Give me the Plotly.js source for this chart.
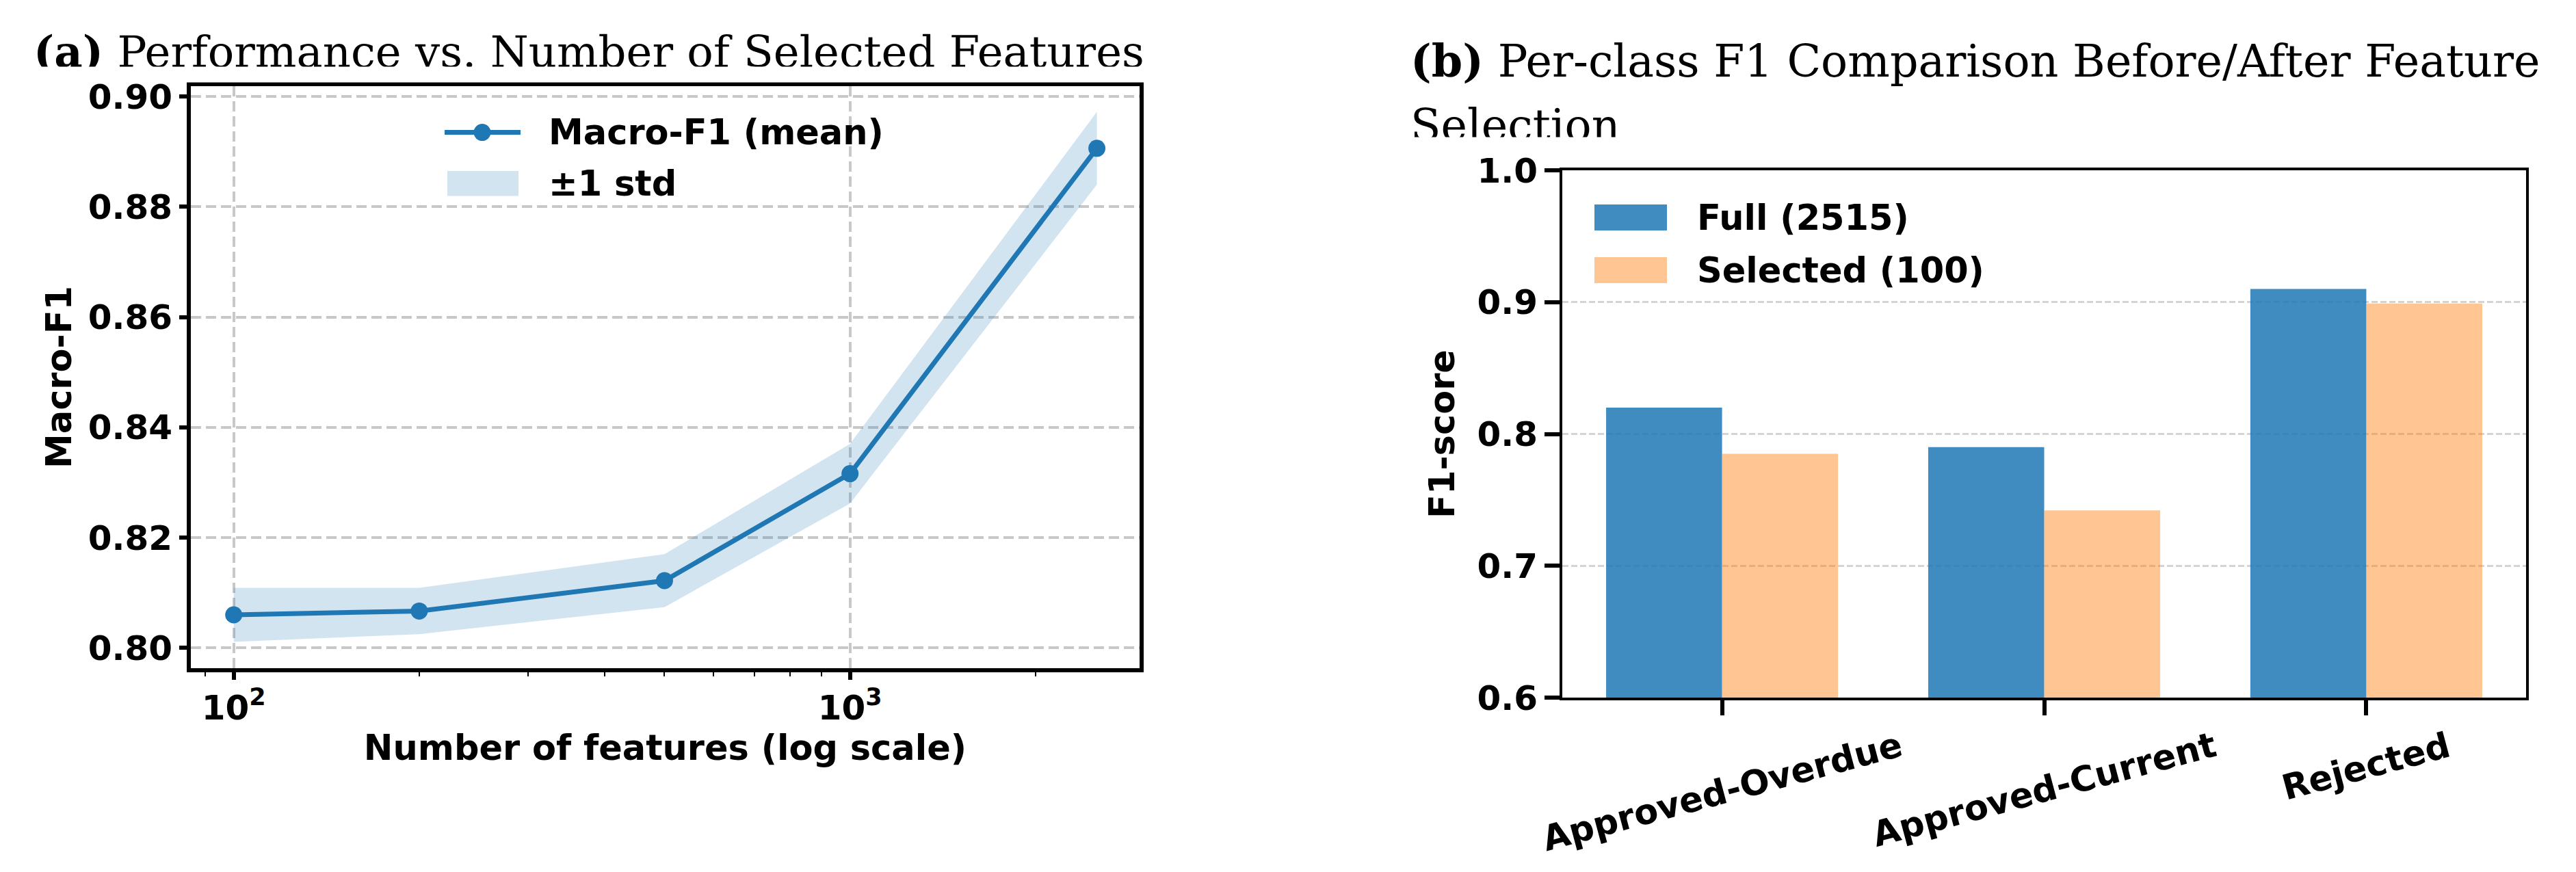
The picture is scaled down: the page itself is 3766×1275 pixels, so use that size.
<!DOCTYPE html>
<html>
<head>
<meta charset="utf-8">
<script src="https://cdn.plot.ly/plotly-3.0.1.min.js"></script>
<style>
  html, body { margin: 0; padding: 0; background: #ffffff; }
  #chart { width: 3766px; height: 1275px; }
</style>
</head>
<body>
<div id="chart"></div>
<script>
// Figure size in pixels
const W = 3766, H = 1275;

// (a) Macro-F1 against the number of selected features
const featureCounts = [100, 200, 500, 1000, 2515];
const macroF1Mean   = [0.8060, 0.8067, 0.8122, 0.8316, 0.8906];
const macroF1Std    = [0.0049, 0.0042, 0.0048, 0.0054, 0.0066];
const selectedK     = 100;

// (b) Per-class F1 before / after feature selection
const classNames = ['Approved-Overdue', 'Approved-Current', 'Rejected'];
const f1Full     = [0.820, 0.790, 0.910];
const f1Selected = [0.785, 0.742, 0.899];

const fullLabel     = 'Full (' + featureCounts[featureCounts.length - 1] + ')';
const selectedLabel = 'Selected (' + selectedK + ')';

// pixel -> paper helpers
const px = x => x / W;
const py = y => 1 - y / H;

const BLUE = '#1f77b4';
const BAND = 'rgba(31,119,180,0.2)';
const BAR_FULL = 'rgba(31,119,180,0.85)';
const BAR_SEL  = 'rgba(255,127,14,0.45)';
const SANS  = 'DejaVu Sans';
const SERIF = 'DejaVu Serif';

const lower = macroF1Mean.map((m, i) => m - macroF1Std[i]);
const upper = macroF1Mean.map((m, i) => m + macroF1Std[i]);

const traces = [
  { x: featureCounts, y: lower, mode: 'lines', line: { width: 0, color: BAND },
    xaxis: 'x', yaxis: 'y', showlegend: false, hoverinfo: 'skip' },
  { x: featureCounts, y: upper, mode: 'lines', line: { width: 0, color: BAND },
    fill: 'tonexty', fillcolor: BAND, name: '±1 std',
    xaxis: 'x', yaxis: 'y', showlegend: false, hoverinfo: 'skip' },
  { x: featureCounts, y: macroF1Mean, mode: 'lines+markers', name: 'Macro-F1 (mean)',
    line: { color: BLUE, width: 7 }, marker: { color: BLUE, size: 25 },
    xaxis: 'x', yaxis: 'y', showlegend: false },
  { type: 'bar', x: classNames, y: f1Full, name: fullLabel,
    width: 0.36, offset: -0.36, marker: { color: BAR_FULL, line: { width: 0 } },
    xaxis: 'x2', yaxis: 'y2', showlegend: false },
  { type: 'bar', x: classNames, y: f1Selected, name: selectedLabel,
    width: 0.36, offset: 0, marker: { color: BAR_SEL, line: { width: 0 } },
    xaxis: 'x2', yaxis: 'y2', showlegend: false }
];

const tickFont = { family: SANS, size: 50, color: '#000', weight: 'bold' };
const titleFont = { family: SANS, size: 51, color: '#000', weight: 'bold' };

const layout = {
  width: W, height: H,
  margin: { l: 0, r: 0, t: 0, b: 0 },
  paper_bgcolor: '#ffffff', plot_bgcolor: '#ffffff',
  barmode: 'overlay',
  showlegend: false,
  xaxis: {
    type: 'log', domain: [px(279), px(1666)], range: [1.93041, 3.46981], anchor: 'y',
    dtick: 1, exponentformat: 'power',
    showline: true, linewidth: 6, linecolor: '#000', mirror: true,
    ticks: 'outside', ticklen: 11, tickwidth: 6, tickcolor: '#000',
    tickfont: { family: SANS, size: 40, color: '#000', weight: 'bold' },
    showgrid: true, gridcolor: '#c8c8c8', gridwidth: 4, griddash: '15px,7px',
    minor: { ticks: 'outside', ticklen: 6, tickwidth: 2, tickcolor: '#000', dtick: 'D1', showgrid: false },
    zeroline: false,
    title: { text: 'Number of features (log scale)', font: titleFont, standoff: 8 }
  },
  yaxis: {
    domain: [py(977), py(126)], range: [0.79633, 0.90186], anchor: 'x',
    tick0: 0.8, dtick: 0.02, tickformat: '.2f',
    showline: true, linewidth: 6, linecolor: '#000', mirror: true,
    ticks: 'outside', ticklen: 11, tickwidth: 6, tickcolor: '#000',
    tickfont: tickFont,
    showgrid: true, gridcolor: '#c8c8c8', gridwidth: 4, griddash: '15px,7px',
    zeroline: false,
    title: { text: 'Macro-F1', font: titleFont, standoff: 10 }
  },
  xaxis2: {
    type: 'category', domain: [px(2284), px(3693)], range: [-0.496, 2.496], anchor: 'y2',
    showline: true, linewidth: 4, linecolor: '#000', mirror: true,
    ticks: 'outside', ticklen: 22, tickwidth: 6, tickcolor: '#000',
    showticklabels: false, showgrid: false, zeroline: false
  },
  yaxis2: {
    domain: [py(1020), py(249)], range: [0.6, 1.0], anchor: 'x2',
    tick0: 0.6, dtick: 0.1, tickformat: '.1f',
    showline: true, linewidth: 4, linecolor: '#000', mirror: true,
    ticks: 'outside', ticklen: 22, tickwidth: 6, tickcolor: '#000',
    tickfont: tickFont,
    showgrid: true, gridcolor: '#d4d4d4', gridwidth: 3, griddash: '9px,4px',
    zeroline: false,
    title: { text: 'F1-score', font: titleFont, standoff: 18 }
  },
  shapes: [
    // chosen feature count
    { type: 'line', xref: 'x', yref: 'y domain', x0: Math.log10(selectedK), x1: Math.log10(selectedK),
      y0: 0, y1: 1, layer: 'above', line: { color: '#808080', width: 6, dash: '20px,9px' } },
    // legend keys, panel (a)
    { type: 'line', xref: 'paper', yref: 'paper', x0: px(650), x1: px(761), y0: py(193.6), y1: py(193.6),
      line: { color: BLUE, width: 7 } },
    { type: 'circle', xref: 'paper', yref: 'paper', x0: px(692.5), x1: px(717.5), y0: py(206.1), y1: py(181.1),
      fillcolor: BLUE, line: { width: 0 } },
    { type: 'rect', xref: 'paper', yref: 'paper', x0: px(654), x1: px(758), y0: py(286.6), y1: py(250),
      fillcolor: BAND, line: { width: 0 } },
    // legend keys, panel (b)
    { type: 'rect', xref: 'paper', yref: 'paper', x0: px(2331), x1: px(2437), y0: py(337), y1: py(299),
      fillcolor: BAR_FULL, line: { width: 0 } },
    { type: 'rect', xref: 'paper', yref: 'paper', x0: px(2331), x1: px(2437), y0: py(414), y1: py(376),
      fillcolor: BAR_SEL, line: { width: 0 } }
  ],
  annotations: []
};

const A = layout.annotations;
function label(text, x, y, font, extra) {
  A.push(Object.assign({ text: text, xref: 'paper', yref: 'paper', x: px(x), y: py(y),
    xanchor: 'left', yanchor: 'middle', showarrow: false, font: font, borderpad: 0 }, extra || {}));
}

// legend labels
label('Macro-F1 (mean)', 801, 193, titleFont);
label('±1 std', 801, 269, titleFont);
label(fullLabel, 2480, 318, titleFont);
label(selectedLabel, 2480, 395, titleFont);

// panel titles (serif)
label('<b>(a)</b> Performance vs. Number of Selected Features', 48, 76,
  { family: SERIF, size: 64, color: '#000' });
label('<b>(b)</b> Per-class F1 Comparison Before/After Feature', 2061, 89,
  { family: SERIF, size: 65, color: '#000' });
label('Selection', 2061, 184, { family: SERIF, size: 65, color: '#000' });
// white strips that trim the lower edge of the title blocks
A.push({ text: ' ', xref: 'paper', yref: 'paper', x: px(30), y: py(97), xanchor: 'left', yanchor: 'top',
  width: 1680, height: 22, bgcolor: '#ffffff', borderpad: 0, showarrow: false });
A.push({ text: ' ', xref: 'paper', yref: 'paper', x: px(2040), y: py(200), xanchor: 'left', yanchor: 'top',
  width: 380, height: 24, bgcolor: '#ffffff', borderpad: 0, showarrow: false });

// rotated category labels for panel (b)
classNames.forEach(c => {
  A.push({ text: c, xref: 'x2', yref: 'paper', x: c, y: py(1058), xanchor: 'center', yanchor: 'top',
    textangle: -15, showarrow: false, font: titleFont, borderpad: 0 });
});

Plotly.newPlot('chart', traces, layout, { staticPlot: true, displayModeBar: false });
</script>
</body>
</html>
